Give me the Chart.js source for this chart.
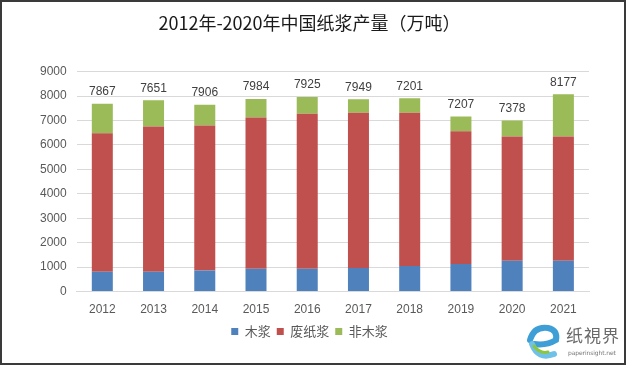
<!DOCTYPE html>
<html>
<head>
<meta charset="utf-8">
<script src="https://cdn.jsdelivr.net/npm/chart.js@4/dist/chart.umd.min.js"></script>
<style>
  html, body { margin: 0; padding: 0; background: #fff; }
  #frame {
    position: relative; width: 622px; height: 361px;
    border: 2px solid #3a3a3a; overflow: hidden; background: #fff;
  }
  #chartBox { position: absolute; left: -2px; top: -2px; width: 626px; height: 365px; }
  #logo { position: absolute; left: 522px; top: 318px; width: 100px; height: 44px; }
  #logo .cn { position: absolute; left: 42px; top: 2px; font: 17px "Noto Sans CJK SC", sans-serif; color: #6a6a6a; letter-spacing: 1px; }
  #logo .en { position: absolute; left: 44px; top: 29px; font: 6px "DejaVu Sans", sans-serif; color: #777; letter-spacing: -0.1px; }
</style>
</head>
<body>
<div id="frame">
  <div id="chartBox"><canvas id="pulpChart"></canvas></div>
  <div id="logo">
    <svg width="40" height="44" viewBox="0 0 40 44">
      <path d="M6 20 Q10 6 24 8 Q34 10 32 20 Q22 26 10 24" fill="none" stroke="#3e9fd6" stroke-width="6" stroke-linecap="round"/>
      <path d="M8 24 Q14 40 30 34" fill="none" stroke="#6fc1e8" stroke-width="6" stroke-linecap="round"/>
      <path d="M10 26 Q16 34 24 32" fill="none" stroke="#8cc63e" stroke-width="3" stroke-linecap="round"/>
    </svg>
    <div class="cn">纸視界</div>
    <div class="en">paperinsight.net</div>
  </div>
</div>
<script>
// === Data (万吨) ===
const years = ["2012", "2013", "2014", "2015", "2016", "2017", "2018", "2019", "2020", "2021"];
const woodPulp = [810, 810, 860, 930, 930, 970, 1050, 1130, 1260, 1260];
const wastePulp = [5670, 5940, 5930, 6190, 6350, 6350, 6270, 5430, 5090, 5090];
const nonWoodPulp = [1200, 1080, 850, 760, 685, 550, 590, 600, 650, 1725];
const totalLabels = ["7867", "7651", "7906", "7984", "7925", "7949", "7201", "7207", "7378", "8177"];

// total labels drawn above each stacked bar
const totalLabelPlugin = {
  id: "totalLabels",
  afterDatasetsDraw(chart) {
    const ctx = chart.ctx;
    const meta = chart.getDatasetMeta(chart.data.datasets.length - 1);
    ctx.save();
    ctx.font = '12px "Liberation Sans", "DejaVu Sans", sans-serif';
    ctx.fillStyle = "#404040";
    ctx.textAlign = "center";
    ctx.textBaseline = "bottom";
    meta.data.forEach((bar, i) => {
      ctx.fillText(totalLabels[i], bar.x, bar.y - 6);
    });
    ctx.restore();
  }
};

const tickFont = { family: '"Liberation Sans", "DejaVu Sans", sans-serif', size: 12 };

new Chart(document.getElementById("pulpChart"), {
  type: "bar",
  data: {
    labels: years,
    datasets: [
      { label: "木浆", data: woodPulp, backgroundColor: "#4F81BD" },
      { label: "废纸浆", data: wastePulp, backgroundColor: "#C0504D" },
      { label: "非木浆", data: nonWoodPulp, backgroundColor: "#9BBB59" }
    ]
  },
  options: {
    responsive: true,
    maintainAspectRatio: false,
    animation: false,
    datasets: { bar: { categoryPercentage: 1, barPercentage: 0.41 } },
    layout: { padding: { left: 30, right: 37, top: 6, bottom: 17 } },
    plugins: {
      title: {
        display: true,
        text: "2012年-2020年中国纸浆产量（万吨）",
        color: "#1a1a1a",
        font: { family: '"Noto Sans CJK SC", sans-serif', size: 18, weight: "normal" },
        padding: { top: 6, bottom: 38 }
      },
      legend: {
        position: "bottom",
        labels: {
          boxWidth: 7, boxHeight: 7, padding: 6,
          color: "#595959",
          font: { family: '"Noto Sans CJK SC", sans-serif', size: 13 }
        }
      },
      tooltip: { enabled: false }
    },
    scales: {
      x: {
        stacked: true,
        grid: { display: false },
        border: { color: "#D9D9D9" },
        ticks: { color: "#595959", font: tickFont, padding: 2.5 }
      },
      y: {
        stacked: true,
        min: 0, max: 9000,
        ticks: { stepSize: 1000, color: "#595959", font: tickFont, padding: 10, callback: (v) => String(v) },
        grid: { color: "#D9D9D9", drawTicks: false },
        border: { display: false }
      }
    }
  },
  plugins: [totalLabelPlugin]
});
</script>
</body>
</html>
